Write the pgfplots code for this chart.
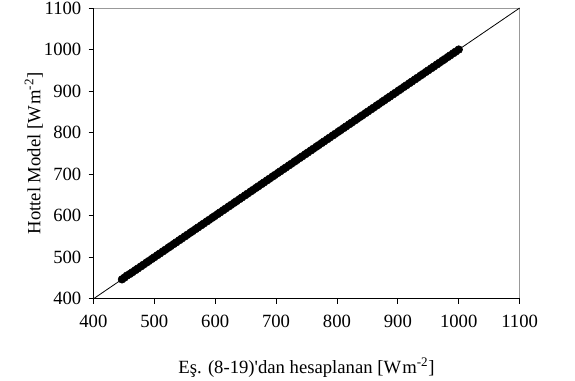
\documentclass[border=0pt]{standalone}
\usepackage{fontspec}
\setmainfont{Liberation Serif}
\usepackage{pgfplots}
\pgfplotsset{compat=1.18}
\begin{document}
\begin{tikzpicture}
\useasboundingbox (-70pt,-61pt) rectangle (361pt,224pt);
\begin{axis}[
  scale only axis, width=319.5pt, height=218pt,
  at={(0,0)}, anchor=south west,
  xmin=400, xmax=1100, ymin=400, ymax=1100,
  xtick={400,500,...,1100}, ytick={400,500,...,1100},
  tick align=outside, xtick pos=bottom, ytick pos=left,
  major tick length=3.5pt,
  tick style={black, line width=0.6pt},
  axis line style={draw=none},
  /pgf/number format/assume math mode=true,
  /pgf/number format/1000 sep={},
  ticklabel style={font=\fontsize{14pt}{16pt}\selectfont},
  xticklabel style={yshift=-5pt},
  yticklabel style={xshift=-2pt},
  label style={font=\fontsize{14pt}{16pt}\selectfont},
  xlabel={Eş. (8-19)\textquotesingle dan hesaplanan [W\kern0.8pt m\textsuperscript{-2}]},
  ylabel={Hottel Model [W\kern0.8pt m\textsuperscript{-2}]},
  xlabel style={yshift=-16pt},
  ylabel style={yshift=-6pt},
  clip=false,
]
\draw[gray!80, line width=0.6pt] (axis cs:400,1100) -- (axis cs:1100,1100) -- (axis cs:1100,400);
\draw[black, line width=0.8pt] (axis cs:400,1100) -- (axis cs:400,400) -- (axis cs:1100,400);
\addplot[black, line width=0.6pt] coordinates {(400,400) (1100,1100)};
\addplot[only marks, mark=*, mark size=2.9pt, black] coordinates {
(447,447)(451,451)(455,456)(460,460)(464,464)(469,469)(473,473)(478,478)(482,482)(487,487)
(491,491)(496,496)(500,500)(505,505)(509,509)(514,514)(518,518)(523,523)(527,527)(532,532)
(536,536)(541,541)(545,545)(550,550)(554,554)(559,559)(563,563)(568,568)(572,572)(577,577)
(581,581)(586,586)(590,590)(595,595)(599,599)(604,604)(608,608)(613,613)(617,617)(622,622)
(626,626)(631,631)(635,635)(640,640)(644,644)(649,649)(653,653)(658,658)(662,662)(667,667)
(671,671)(676,676)(680,680)(685,685)(689,689)(694,694)(698,698)(703,703)(707,707)(712,712)
(716,716)(721,721)(725,725)(730,730)(734,734)(739,739)(743,743)(748,748)(752,752)(757,757)
(761,761)(766,766)(770,770)(775,775)(779,779)(784,784)(788,788)(793,793)(797,797)(802,802)
(806,806)(811,811)(815,815)(820,820)(824,824)(829,829)(833,833)(838,838)(842,842)(847,847)
(851,851)(856,856)(860,860)(865,865)(869,869)(874,874)(878,878)(883,883)(887,887)(892,892)
(896,896)(901,901)(905,905)(910,910)(914,914)(919,919)(923,923)(928,928)(932,932)(937,937)
(941,941)(946,946)(950,950)(955,955)(959,959)(964,964)(968,968)(973,973)(977,977)(982,982)
(986,986)(991,991)(995,995)(1000,1000)
};
\end{axis}
\end{tikzpicture}
\end{document}
